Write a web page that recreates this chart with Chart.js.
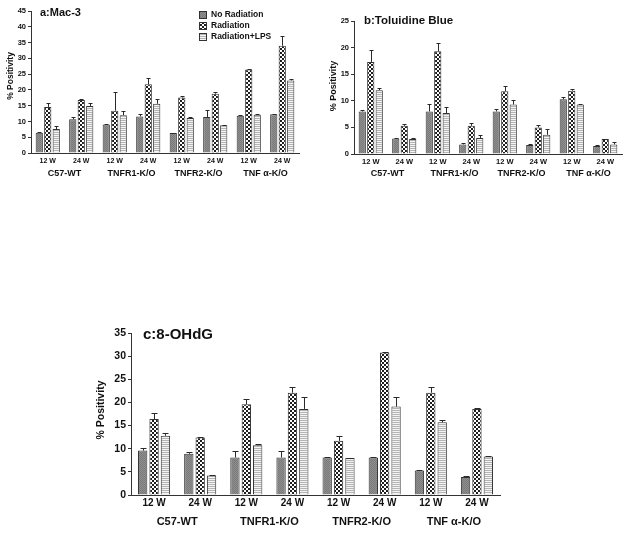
<!DOCTYPE html>
<html><head><meta charset="utf-8">
<script src="https://cdn.jsdelivr.net/npm/chart.js@4.4.0/dist/chart.umd.min.js"></script>
<style>
html,body{margin:0;padding:0;background:#fff;width:629px;height:534px;overflow:hidden}
canvas{position:absolute;display:block}
</style></head><body>
<canvas id="ca" width="310" height="185" style="left:0;top:0;width:310px;height:185px"></canvas>
<canvas id="cb" width="314" height="185" style="left:315px;top:0;width:314px;height:185px"></canvas>
<canvas id="cc" width="420" height="220" style="left:90px;top:310px;width:420px;height:220px"></canvas>
<script>
// ---- data ----
const weekLabels = ['12 W','24 W','12 W','24 W','12 W','24 W','12 W','24 W'];
const groupLabels = ['C57-WT','TNFR1-K/O','TNFR2-K/O','TNF \u03b1-K/O'];
const seriesNames = ['No Radiation','Radiation','Radiation+LPS'];

// a: Mac-3
const macNoRad = [6.4, 10.7, 9.0, 11.6, 6.3, 11.4, 11.8, 12.3];
const macRad   = [14.6, 16.8, 13.4, 21.8, 17.6, 18.8, 26.5, 34.0];
const macLps   = [7.6, 14.9, 12.0, 15.6, 11.1, 8.8, 12.1, 23.0];
const macNoRadErr = [0.2, 0.7, 0.2, 0.8, 0.1, 2.1, 0.2, 0.1];
const macRadErr   = [1.1, 0.3, 5.9, 2.1, 0.4, 0.5, 0.2, 3.2];
const macLpsErr   = [0.8, 0.9, 1.4, 1.5, 0.2, 0.1, 0.2, 0.6];

// b: Toluidine Blue
const tbNoRad = [8.0, 2.9, 8.0, 1.8, 8.0, 1.7, 10.3, 1.5];
const tbRad   = [17.3, 5.3, 19.3, 5.3, 11.8, 5.0, 11.9, 2.8];
const tbLps   = [12.0, 2.8, 7.7, 3.0, 9.3, 3.6, 9.3, 1.8];
const tbNoRadErr = [0.3, 0.2, 1.4, 0.3, 0.4, 0.2, 0.4, 0.1];
const tbRadErr   = [2.2, 0.4, 1.6, 0.5, 1.0, 0.4, 0.3, 0.1];
const tbLpsErr   = [0.5, 0.2, 1.1, 0.6, 0.8, 1.1, 0.1, 0.4];

// c: 8-OHdG
const ohNoRad = [9.6, 8.9, 8.1, 8.1, 8.1, 8.1, 5.3, 3.9];
const ohRad   = [16.4, 12.4, 19.6, 22.1, 11.7, 30.8, 22.1, 18.6];
const ohLps   = [12.8, 4.2, 10.75, 18.6, 8.0, 19.1, 15.7, 8.3];
const ohNoRadErr = [0.5, 0.3, 1.4, 1.3, 0.2, 0.2, 0.1, 0.2];
const ohRadErr   = [1.4, 0.2, 1.2, 1.3, 1.1, 0.2, 1.2, 0.3];
const ohLpsErr   = [0.5, 0.2, 0.2, 2.5, 0.1, 2.0, 0.6, 0.1];

const FONT = "'Liberation Sans', Arial, Helvetica, sans-serif";

function makePatterns(ctx) {
  function tile(w, h, draw) {
    const c = document.createElement('canvas'); c.width = w; c.height = h;
    const g = c.getContext('2d'); draw(g); return ctx.createPattern(c, 'repeat');
  }
  const gray = tile(2, 2, g => {
    g.fillStyle = '#8e8e8e'; g.fillRect(0,0,2,2);
    g.fillStyle = '#7a7a7a'; g.fillRect(0,0,1,1); g.fillRect(1,1,1,1);
  });
  const check = tile(4, 4, g => {
    g.fillStyle = '#ffffff'; g.fillRect(0,0,4,4);
    g.fillStyle = '#1e1e1e'; g.fillRect(0,0,2,2); g.fillRect(2,2,2,2);
  });
  const stripe = tile(2, 2, g => {
    g.fillStyle = '#f4f4f4'; g.fillRect(0,0,2,2);
    g.fillStyle = '#b4b4b4'; g.fillRect(0,0,2,1);
  });
  return [gray, check, stripe];
}

const errPlugin = {
  id: 'errBars',
  afterDatasetsDraw(chart, args, opts) {
    const ctx = chart.ctx, y = chart.scales.y;
    ctx.save(); ctx.strokeStyle = '#2a2a2a'; ctx.lineWidth = 1;
    chart.data.datasets.forEach((ds, i) => {
      const meta = chart.getDatasetMeta(i);
      meta.data.forEach((bar, j) => {
        const v = ds.data[j], e = ds.errors[j];
        if (!e) return;
        const top = Math.round(y.getPixelForValue(v + e)) + 0.5;
        const x = Math.round(bar.x) + 0.5;
        ctx.beginPath();
        ctx.moveTo(x, bar.y); ctx.lineTo(x, top);
        ctx.moveTo(x - opts.cap / 2, top); ctx.lineTo(x + opts.cap / 2, top);
        ctx.stroke();
      });
    });
    ctx.restore();
  }
};

const textPlugin = {
  id: 'texts',
  afterDraw(chart, args, opts) {
    const ctx = chart.ctx;
    (opts.items || []).forEach(it => {
      ctx.save();
      ctx.fillStyle = '#111';
      ctx.font = 'bold ' + it.size + 'px ' + FONT;
      ctx.textBaseline = 'middle';
      ctx.textAlign = it.align || 'left';
      ctx.translate(it.x, it.y);
      if (it.rot) ctx.rotate(it.rot);
      ctx.fillText(it.text, 0, 0);
      ctx.restore();
    });
    const lg = opts.legend;
    if (lg) {
      chart.data.datasets.forEach((ds, i) => {
        const cy = lg.y + i * lg.dy;
        ctx.save();
        ctx.fillStyle = ds.backgroundColor;
        ctx.fillRect(lg.x, cy - lg.sh / 2, lg.sw, lg.sh);
        ctx.strokeStyle = '#333'; ctx.lineWidth = 1;
        ctx.strokeRect(lg.x + 0.5, Math.round(cy - lg.sh / 2) + 0.5, lg.sw - 1, lg.sh - 1);
        ctx.fillStyle = '#111';
        ctx.font = 'bold ' + lg.size + 'px ' + FONT;
        ctx.textBaseline = 'middle'; ctx.textAlign = 'left';
        ctx.fillText(ds.label, lg.x + lg.sw + 4, cy);
        ctx.restore();
      });
    }
  }
};

function buildChart(id, p) {
  const el = document.getElementById(id);
  const pats = makePatterns(el.getContext('2d'));
  const tf = (size) => ({family: FONT, size: size, weight: 'bold'});
  return new Chart(el, {
    type: 'bar',
    data: {
      labels: weekLabels,
      datasets: p.series.map((vals, i) => ({
        label: seriesNames[i],
        data: vals,
        errors: p.errors[i],
        backgroundColor: pats[i],
        borderColor: '#333',
        borderWidth: 1,
        borderSkipped: 'bottom',
        categoryPercentage: p.catPct,
        barPercentage: p.barPct
      }))
    },
    options: {
      responsive: false, animation: false, devicePixelRatio: 1,
      layout: {padding: p.padding},
      plugins: {
        legend: {display: false}, tooltip: {enabled: false}, title: {display: false},
        errBars: {cap: p.cap},
        texts: {items: p.texts, legend: p.legend}
      },
      scales: {
        x: {
          offset: true,
          grid: {display: false, drawTicks: false},
          border: {display: true, color: '#333', width: 1},
          ticks: {font: tf(p.xFont), color: '#111', padding: p.xPad, maxRotation: 0, autoSkip: false},
          afterFit: s => { s.height = p.xH; }
        },
        x2: {
          type: 'category', labels: groupLabels, offset: true, position: 'bottom',
          grid: {display: false, drawTicks: false},
          border: {display: false},
          ticks: {font: tf(p.gFont), color: '#111', padding: p.gPad, maxRotation: 0, autoSkip: false},
          afterFit: s => { s.height = p.gH; }
        },
        y: {
          min: 0, max: p.yMax,
          ticks: {stepSize: p.yStep, font: tf(p.yFont), color: '#111', padding: 2},
          grid: {display: true, drawOnChartArea: false, drawTicks: true, tickLength: 3, color: '#333'},
          border: {display: true, color: '#333', width: 1},
          afterFit: s => { s.width = p.yW; }
        }
      }
    },
    plugins: [errPlugin, textPlugin]
  });
}

buildChart('ca', {
  series: [macNoRad, macRad, macLps],
  errors: [macNoRadErr, macRadErr, macLpsErr],
  yMax: 45, yStep: 5,
  padding: {left: 0, top: 11, right: 11, bottom: 0},
  yW: 31, xH: 12, gH: 20,
  xFont: 7, gFont: 9, yFont: 7.5, xPad: 4, gPad: 3,
  catPct: 0.76, barPct: 0.85, cap: 4,
  texts: [
    {text: 'a:Mac-3', x: 40, y: 12.5, size: 11},
    {text: '% Positivity', x: 11, y: 76, size: 8.5, rot: -Math.PI / 2, align: 'center'}
  ],
  legend: {x: 199, y: 15, dy: 11, sw: 8, sh: 8, size: 8.5}
});

buildChart('cb', {
  series: [tbNoRad, tbRad, tbLps],
  errors: [tbNoRadErr, tbRadErr, tbLpsErr],
  yMax: 25, yStep: 5,
  padding: {left: 0, top: 21, right: 7, bottom: 0},
  yW: 39, xH: 12, gH: 19,
  xFont: 7.5, gFont: 9, yFont: 7.5, xPad: 3.5, gPad: 2,
  catPct: 0.76, barPct: 0.85, cap: 4,
  texts: [
    {text: 'b:Toluidine Blue', x: 49, y: 20.5, size: 11.5},
    {text: '% Positivity', x: 19, y: 86, size: 9, rot: -Math.PI / 2, align: 'center'}
  ]
});

buildChart('cc', {
  series: [ohNoRad, ohRad, ohLps],
  errors: [ohNoRadErr, ohRadErr, ohLpsErr],
  yMax: 35, yStep: 5,
  padding: {left: 0, top: 23, right: 10, bottom: 0},
  yW: 41, xH: 14, gH: 21,
  xFont: 10, gFont: 11, yFont: 10.5, xPad: 2, gPad: 6,
  catPct: 0.74, barPct: 0.82, cap: 6,
  texts: [
    {text: 'c:8-OHdG', x: 53, y: 24.5, size: 15},
    {text: '% Positivity', x: 11, y: 100, size: 10.5, rot: -Math.PI / 2, align: 'center'}
  ]
});
</script>
</body></html>
